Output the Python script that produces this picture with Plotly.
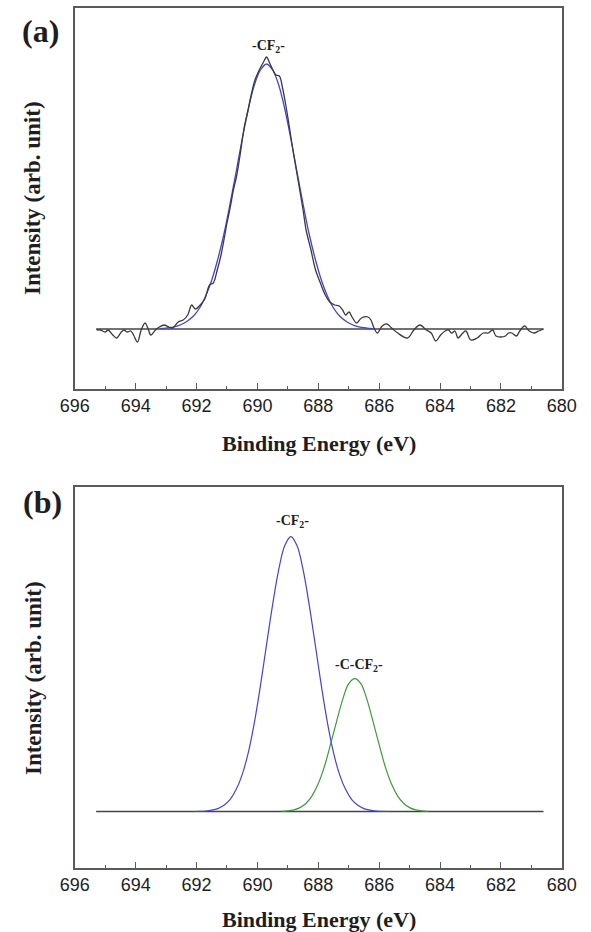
import plotly.graph_objects as go

# ---------------- data ----------------
# Panel (a): measured spectrum (binding energy, intensity above baseline)
meas_e = [695.28, 695.16, 695.00, 694.91, 694.75, 694.63, 694.47, 694.38, 694.28, 694.16,
          694.07, 693.94, 693.82, 693.69, 693.60, 693.50, 693.35, 693.22, 693.07, 692.91,
          692.79, 692.60, 692.44, 692.29, 692.16, 692.04, 691.88, 691.73, 691.57, 691.45,
          691.32, 691.21, 691.10, 691.00, 690.89, 690.79, 690.69, 690.58, 690.43, 690.32,
          690.22, 690.08, 689.94, 689.80, 689.70, 689.60, 689.49, 689.39, 689.28, 689.18,
          689.08, 688.97, 688.87, 688.76, 688.61, 688.50, 688.40, 688.24, 688.09, 687.93,
          687.77, 687.62, 687.46, 687.31, 687.20, 687.10, 686.99, 686.89, 686.74, 686.58,
          686.37, 686.27, 686.17, 686.06, 685.90, 685.75, 685.59, 685.39, 685.07, 684.86,
          684.66, 684.45, 684.29, 684.14, 683.98, 683.83, 683.72, 683.62, 683.51, 683.41,
          683.25, 683.15, 682.99, 682.78, 682.58, 682.42, 682.27, 682.16, 682.00, 681.85,
          681.75, 681.64, 681.49, 681.38, 681.22, 681.07, 680.91, 680.76, 680.60]
meas_v = [-1, -1, -3, -1, -6, -9, -3, -1, -3, -2,
          -6, -13, -1, 6, 1, -6, -1, 2, 4, 2,
          1, 7, 9, 14, 24, 20, 24, 30, 44, 46,
          59, 72, 89, 106, 122, 139, 152, 172, 202, 217,
          232, 249, 259, 267, 272, 266, 259, 254, 253, 242,
          226, 206, 186, 166, 139, 119, 99, 79, 59, 46,
          34, 27, 24, 23, 19, 14, 17, 12, 6, 11,
          12, 9, 1, -4, 3, 5, 1, -4, -9, -1,
          4, -1, -4, -12, -6, -2, -1, -4, -2, -9,
          -4, -2, -11, -9, -4, -4, -1, -7, -8, -7,
          -4, -4, -7, -2, 3, -2, -4, -2, 0]

# Panel (a): fitted -CF2- component
fit_a_e = [693.2, 693.1, 692.9, 692.7, 692.5, 692.3, 692.1, 691.9, 691.7, 691.5, 691.3, 691.1,
           690.9, 690.7, 690.5, 690.3, 690.1, 689.9, 689.7, 689.5, 689.3, 689.1, 688.9, 688.7,
           688.5, 688.3, 688.1, 687.9, 687.7, 687.5, 687.3, 687.1, 686.9, 686.7, 686.5, 686.3, 686.2]
fit_a_v = [0.3, 0.6, 1.3, 2.4, 4.5, 8, 13, 21, 33, 49, 70, 95,
           125, 157, 190, 220, 244, 259, 265, 259, 244, 220, 190, 157,
           125, 95, 70, 49, 33, 21, 13, 8, 4.5, 2.4, 1.3, 0.6, 0.3]

# Panel (b): -CF2- component
cf2_e = [692.1, 691.9, 691.7, 691.5, 691.3, 691.1, 690.9, 690.7, 690.5, 690.3, 690.1,
         689.9, 689.7, 689.5, 689.3, 689.1, 688.9, 688.7, 688.5, 688.3, 688.1, 687.9,
         687.7, 687.5, 687.3, 687.1, 686.9, 686.7, 686.5, 686.3, 686.1, 685.9, 685.7]
cf2_v = [0.1, 0.24, 0.6, 1.4, 3.0, 6.3, 12, 22, 37, 59, 89,
         126, 167, 207, 242, 266, 275, 266, 242, 207, 167, 126,
         89, 59, 37, 22, 12, 6.3, 3.0, 1.4, 0.6, 0.24, 0.1]

# Panel (b): -C-CF2- component
ccf2_e = [689.2, 689.0, 688.8, 688.6, 688.4, 688.2, 688.0, 687.8, 687.6, 687.4, 687.2, 687.0,
          686.8, 686.6, 686.4, 686.2, 686.0, 685.8, 685.6, 685.4, 685.2, 685.0, 684.8, 684.6, 684.4]
ccf2_v = [0.2, 0.7, 1.8, 4.0, 8.4, 16, 28, 45, 67, 90, 112, 128,
          133, 128, 112, 90, 67, 45, 28, 16, 8.4, 4.0, 1.8, 0.7, 0.2]

# baseline
base_e = [695.3, 680.6]
base_v = [0, 0]

# axis ticks
major_ticks = [696, 694, 692, 690, 688, 686, 684, 682, 680]
minor_ticks = [695, 693, 691, 689, 687, 685, 683, 681]

# ---------------- styles ----------------
W, H = 591, 932
BLACK = "#3a3a3a"
BLUE = "#4242dc"
GREEN = "#3d9a3d"
FRAME = "#5a5a5a"
TXT = "#1e1e1e"
SERIF = "Times New Roman, Liberation Serif, serif"
SANS = "Arial, Liberation Sans, sans-serif"

fig = go.Figure()

# panel (a)
fig.add_trace(go.Scatter(x=base_e, y=base_v, mode="lines", line=dict(color="#444444", width=1.5),
                         xaxis="x", yaxis="y", showlegend=False))
fig.add_trace(go.Scatter(x=fit_a_e, y=fit_a_v, mode="lines", line=dict(color=BLUE, width=1.3, shape="spline"),
                         xaxis="x", yaxis="y", showlegend=False))
fig.add_trace(go.Scatter(x=meas_e, y=meas_v, mode="lines", line=dict(color=BLACK, width=1.3, shape="spline"),
                         xaxis="x", yaxis="y", showlegend=False))

# panel (b)
fig.add_trace(go.Scatter(x=base_e, y=base_v, mode="lines", line=dict(color="#444444", width=1.5),
                         xaxis="x2", yaxis="y2", showlegend=False))
fig.add_trace(go.Scatter(x=cf2_e, y=cf2_v, mode="lines", line=dict(color=BLUE, width=1.2, shape="spline"),
                         xaxis="x2", yaxis="y2", showlegend=False))
fig.add_trace(go.Scatter(x=ccf2_e, y=ccf2_v, mode="lines", line=dict(color=GREEN, width=1.2, shape="spline"),
                         xaxis="x2", yaxis="y2", showlegend=False))

xdom = [63 / W, 576 / W]


def xaxis_cfg(anchor):
    return dict(
        domain=xdom, anchor=anchor, range=[696, 680], showgrid=False, zeroline=False,
        showline=True, linecolor=FRAME, linewidth=1.5, mirror=True,
        tickmode="array", tickvals=major_ticks, ticktext=[str(t) for t in major_ticks],
        ticks="inside", ticklen=6, tickwidth=1.2, tickcolor=FRAME,
        minor=dict(tickvals=minor_ticks, ticks="inside", ticklen=3.5, tickwidth=1.2, tickcolor=FRAME),
        tickfont=dict(family=SANS, size=18, color=TXT),
        ticklabeloverflow="allow",
    )


def yaxis_cfg(anchor, dom, rng):
    return dict(
        domain=dom, anchor=anchor, range=rng, showgrid=False, zeroline=False,
        showline=True, linecolor=FRAME, linewidth=1.5, mirror=True,
        showticklabels=False, ticks="",
    )


annotations = []


def ann(text, xp, yp, size, family=SERIF, angle=0):
    annotations.append(dict(text=text, x=xp / W, y=1 - yp / H, xref="paper", yref="paper",
                            showarrow=False, xanchor="center", yanchor="middle", textangle=angle,
                            font=dict(family=family, size=size, color=TXT)))


ann("<b>(a)</b>", 27, 31, 32)
ann("<b>(b)</b>", 29, 502, 32)
ann("<b>Binding Energy (eV)</b>", 320, 443, 22)
ann("<b>Binding Energy (eV)</b>", 320, 919, 22)
ann("<b>Intensity (arb. unit)</b>", 19, 198, 23, angle=-90)
ann("<b>Intensity (arb. unit)</b>", 19, 678, 23, angle=-90)
ann("<b>-CF<sub>2</sub>-</b>", 267, 46, 14)
ann("<b>-CF<sub>2</sub>-</b>", 292, 521, 14)
ann("<b>-C-CF<sub>2</sub>-</b>", 362, 665, 14)

fig.update_layout(
    width=W, height=H, margin=dict(l=0, r=0, t=0, b=0),
    paper_bgcolor="white", plot_bgcolor="white",
    xaxis=xaxis_cfg("y"),
    yaxis=yaxis_cfg("x", [1 - 389 / H, 1 - 8 / H], [-60, 321]),
    xaxis2=xaxis_cfg("y2"),
    yaxis2=yaxis_cfg("x2", [1 - 868 / H, 1 - 487 / H], [-56.4, 324.6]),
    annotations=annotations,
)

fig.write_html("out.html")
